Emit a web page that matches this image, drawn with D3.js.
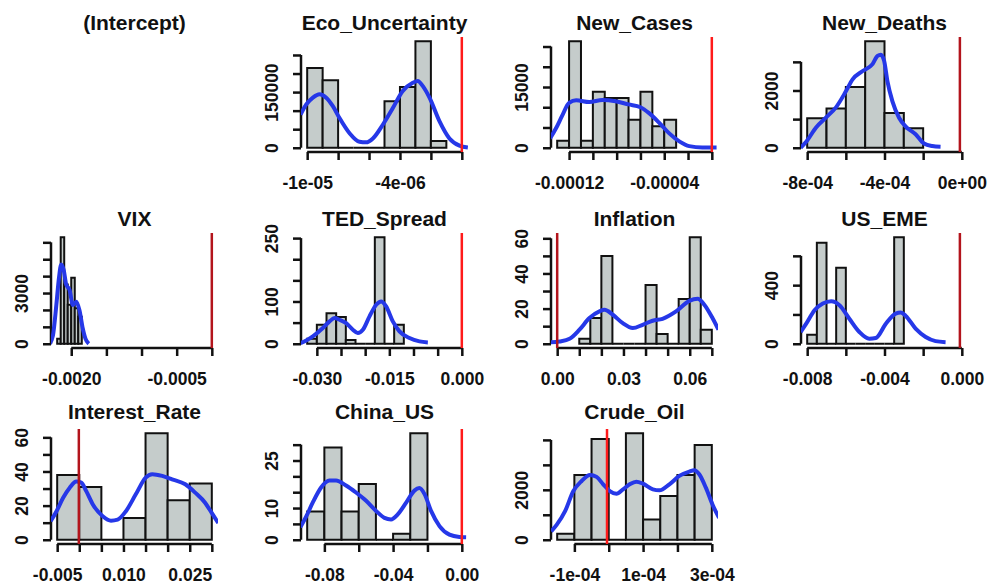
<!DOCTYPE html>
<html>
<head>
<meta charset="utf-8">
<script src="https://cdn.jsdelivr.net/npm/d3@7"></script>
<style>
  body { margin: 0; background: #fff; }
  text { font-family: "Liberation Sans", Arial, sans-serif; }
</style>
</head>
<body>
<svg id="chart" width="987" height="586"></svg>
<script>
// panel titles, in plotting order (3 rows x 4 columns)
const titles = ["(Intercept)", "Eco_Uncertainty", "New_Cases", "New_Deaths",
                "VIX", "TED_Spread", "Inflation", "US_EME",
                "Interest_Rate", "China_US", "Crude_Oil"];

// x limits of each histogram
const xLimits = [null, [-1e-5, 0], [-1.3e-4, 0], [-8e-4, 0],
                 [-0.0022, 0], [-0.032, 0], [0, 0.07], [-0.008, 0],
                 [-0.005, 0.03], [-0.09, 0], [-1.5e-4, 3e-4]];

// histogram breaks: first break and bin width
const binStart = [null, -1e-5, -1.3e-4, -8e-4, -0.0022, -0.032, 0.01, -0.008, -0.005, -0.09, -1.5e-4];
const binWidth = [null, 1e-6, 1e-5, 1e-4, 5e-5, 0.002, 0.005, 0.0005, 0.005, 0.01, 5e-5];

// histogram densities
const binHeights = [
  null,
  [215000, 182000, 0, 0, 0, 125000, 164000, 287000, 18000],
  [1700, 26300, 1700, 13800, 12300, 12300, 6900, 13800, 5300, 6900],
  [1030, 1370, 2120, 3720, 1210, 680],
  [300, 6300, 3500, 2300, 3900, 2100, 1600],
  [12, 45, 72, 63, 9, 0, 0, 252, 0, 45],
  [2.8, 14.6, 50, 0, 0, 0, 33.5, 5.5, 0, 25.4, 60.6, 8],
  [62, 690, 0, 519, 0, 0, 0, 0, 0, 727],
  [38, 30.9, 0, 12.8, 62.4, 23.2, 32.9],
  [8.9, 29.1, 8.9, 17.6, 0, 1.9, 33.6],
  [242, 2598, 4038, 0, 4266, 808, 1750, 2598, 3795]
];

// kernel density estimates: [x, density]
const density = [
  null,
  [[-1.043e-5, 89000], [-1.007e-5, 116000], [-0.963e-5, 135000], [-0.920e-5, 144000], [-0.877e-5, 135000],
   [-0.834e-5, 112000], [-0.791e-5, 80000], [-0.726e-5, 39000], [-0.662e-5, 16000], [-0.619e-5, 14500],
   [-0.575e-5, 25000], [-0.511e-5, 62000], [-0.446e-5, 107000], [-0.382e-5, 153000], [-0.317e-5, 175000],
   [-0.285e-5, 180000], [-0.252e-5, 166000], [-0.209e-5, 135000], [-0.144e-5, 71000], [-0.080e-5, 25000],
   [-0.015e-5, 5500], [0.039e-5, 500]],
  [[-1.36e-4, 2300], [-1.31e-4, 4800], [-1.26e-4, 7800], [-1.2e-4, 11100], [-1.14e-4, 11700],
   [-1.03e-4, 11300], [-0.92e-4, 11800], [-0.81e-4, 11500], [-0.70e-4, 10700], [-0.60e-4, 10000],
   [-0.53e-4, 8600], [-0.44e-4, 6100], [-0.36e-4, 3600], [-0.27e-4, 1500], [-0.19e-4, 400],
   [-0.08e-4, 80], [0.04e-4, 80]],
  [[-8.34e-4, 0], [-8.05e-4, 210], [-7.54e-4, 710], [-7.02e-4, 1060], [-6.51e-4, 1410],
   [-5.99e-4, 1980], [-5.65e-4, 2390], [-5.13e-4, 2680], [-4.62e-4, 2920], [-4.36e-4, 3210],
   [-4.19e-4, 3250], [-4.02e-4, 3040], [-3.85e-4, 2330], [-3.59e-4, 1620], [-3.24e-4, 1040],
   [-2.90e-4, 740], [-2.39e-4, 470], [-1.96e-4, 150], [-1.53e-4, 60], [-1.10e-4, 35]],
  [[-2.307e-3, 0], [-2.26e-3, 500], [-2.212e-3, 2290], [-2.175e-3, 3890], [-2.142e-3, 4690],
   [-2.109e-3, 4390], [-2.071e-3, 3490], [-2.024e-3, 3190], [-1.977e-3, 2290], [-1.929e-3, 2490],
   [-1.883e-3, 1990], [-1.836e-3, 900], [-1.798e-3, 300], [-1.751e-3, 0]],
  [[-0.03338, 1.6], [-0.03221, 7.9], [-0.03083, 17.4], [-0.02876, 37.1], [-0.02738, 52.8],
   [-0.02634, 60.7], [-0.02531, 56.8], [-0.02393, 48.9], [-0.02255, 33.1], [-0.02152, 25.2],
   [-0.02048, 33.1], [-0.0191, 64.7], [-0.01772, 92.3], [-0.01669, 100.2], [-0.01566, 88.3],
   [-0.01428, 52.8], [-0.0129, 29.2], [-0.01083, 13.4], [-0.00876, 5.5], [-0.00703, 3.2]],
  [[-0.003, 0.8], [0.0011, 1.3], [0.0056, 2.8], [0.0101, 8], [0.0146, 14.6],
   [0.0191, 18.4], [0.0214, 19.3], [0.0252, 16.5], [0.0297, 11.7], [0.0342, 8.9],
   [0.0387, 10.8], [0.0432, 13.1], [0.0477, 14.2], [0.0538, 18.4], [0.0598, 24.4],
   [0.0636, 25.6], [0.0666, 22.2], [0.0703, 14.6], [0.073, 8]],
  [[-0.00834, 80], [-0.00805, 137], [-0.00762, 229], [-0.00719, 274], [-0.00676, 290],
   [-0.00633, 263], [-0.00582, 171], [-0.0053, 80], [-0.00479, 34], [-0.00445, 39],
   [-0.00393, 137], [-0.00342, 206], [-0.00316, 213], [-0.0029, 190], [-0.00239, 103],
   [-0.00187, 46], [-0.00136, 18], [-0.00084, 11]],
  [[-0.00649, 10.8], [-0.00515, 16.7], [-0.00365, 24.6], [-0.00216, 30.5], [-0.00066, 34.1],
   [0.00046, 33.5], [0.00158, 28.5], [0.00307, 20.7], [0.00531, 13.8], [0.00718, 11.2],
   [0.00868, 11.8], [0.01055, 16.7], [0.01279, 26.6], [0.01503, 36.4], [0.01653, 38.4],
   [0.01877, 37.4], [0.02101, 35.4], [0.024, 32.5], [0.02624, 27.6], [0.02848, 21.7],
   [0.02998, 15.7], [0.03147, 9.8]],
  [[-0.094, 3.9], [-0.0907, 7.2], [-0.0868, 11.7], [-0.0819, 16.5], [-0.0771, 18.7],
   [-0.0732, 18.7], [-0.0674, 17.1], [-0.0616, 14.9], [-0.0557, 12.3], [-0.0499, 9.1],
   [-0.045, 6.9], [-0.0412, 6.4], [-0.0373, 8.0], [-0.0324, 11.7], [-0.0276, 15.5],
   [-0.0247, 16.3], [-0.0217, 14.4], [-0.0179, 9.1], [-0.013, 4.3], [-0.0072, 1.6],
   [-0.0014, 0.85], [0.0025, 0.75]],
  [[-1.675e-4, 336], [-1.511e-4, 606], [-1.270e-4, 1144], [-1.029e-4, 1952], [-0.788e-4, 2355],
   [-0.547e-4, 2598], [-0.354e-4, 2517], [-0.161e-4, 2221], [0.031e-4, 1952], [0.224e-4, 1844],
   [0.417e-4, 2019], [0.610e-4, 2221], [0.802e-4, 2328], [0.995e-4, 2248], [1.284e-4, 2019],
   [1.477e-4, 1978], [1.766e-4, 2221], [2.055e-4, 2557], [2.345e-4, 2732], [2.489e-4, 2786],
   [2.634e-4, 2624], [2.827e-4, 2086], [3.019e-4, 1413], [3.212e-4, 875]]
];

// vertical reference line of each panel
const refLine = [null, 0, 0, -0.00001, 0, 0, 0, -0.0001, -0.0001, 0, -0.000005];

// axis ticks and their labels ("" = tick without label)
const xTicks = [
  null,
  [-1e-5, -8e-6, -6e-6, -4e-6, -2e-6, 0],
  [-1.2e-4, -1e-4, -8e-5, -6e-5, -4e-5, -2e-5, 0],
  [-8e-4, -6e-4, -4e-4, -2e-4, 0],
  [-0.002, -0.0015, -0.001, -0.0005, 0],
  [-0.03, -0.025, -0.02, -0.015, -0.01, -0.005, 0],
  [0, 0.01, 0.02, 0.03, 0.04, 0.05, 0.06, 0.07],
  [-0.008, -0.006, -0.004, -0.002, 0],
  [-0.005, 0, 0.005, 0.01, 0.015, 0.02, 0.025, 0.03],
  [-0.08, -0.06, -0.04, -0.02, 0],
  [-1e-4, 0, 1e-4, 2e-4, 3e-4]
];
const xTickLabels = [
  null,
  ["-1e-05", "", "", "-4e-06", "", ""],
  ["-0.00012", "", "", "", "-0.00004", "", ""],
  ["-8e-04", "", "-4e-04", "", "0e+00"],
  ["-0.0020", "", "", "-0.0005", ""],
  ["-0.030", "", "", "-0.015", "", "", "0.000"],
  ["0.00", "", "", "0.03", "", "", "0.06", ""],
  ["-0.008", "", "-0.004", "", "0.000"],
  ["-0.005", "", "", "0.010", "", "", "0.025", ""],
  ["-0.08", "", "-0.04", "", "0.00"],
  ["-1e-04", "", "1e-04", "", "3e-04"]
];
const yTicks = [
  null,
  [0, 50000, 100000, 150000, 200000, 250000],
  [0, 5000, 10000, 15000, 20000, 25000],
  [0, 1000, 2000, 3000],
  [0, 1000, 2000, 3000, 4000, 5000, 6000],
  [0, 50, 100, 150, 200, 250],
  [0, 10, 20, 30, 40, 50, 60],
  [0, 200, 400, 600],
  [0, 10, 20, 30, 40, 50, 60],
  [0, 5, 10, 15, 20, 25, 30],
  [0, 1000, 2000, 3000, 4000]
];
const yTickLabels = [
  null,
  ["0", "", "", "150000", "", ""],
  ["0", "", "", "15000", "", ""],
  ["0", "", "2000", ""],
  ["0", "", "", "3000", "", "", ""],
  ["0", "", "100", "", "", "250"],
  ["0", "", "20", "", "40", "", "60"],
  ["0", "", "400", ""],
  ["0", "", "20", "", "40", "", "60"],
  ["0", "", "10", "", "", "25", ""],
  ["0", "", "2000", "", ""]
];

// layout
const rowTop = [37, 233, 429];
const titleLift = [7, 7, 10];
const plotW = 167, plotH = 115;
const darkRef = [false, false, false, true, true, false, true, true, true, false, false];

const svg = d3.select("#chart");

titles.forEach((title, i) => {
  const col = i % 4, row = Math.floor(i / 4);
  const left = 51 + 250 * col, top = rowTop[row];
  const g = svg.append("g");

  g.append("text").attr("x", left + plotW / 2).attr("y", top - titleLift[row])
    .attr("text-anchor", "middle").style("font-size", "21px").style("font-weight", "bold")
    .attr("fill", "#111").text(title);

  if (!binHeights[i]) return;

  const [lo, hi] = xLimits[i];
  const pad = (hi - lo) * 0.04;
  const x = d3.scaleLinear().domain([lo - pad, hi + pad]).range([left, left + plotW]);
  const yTop = d3.max(binHeights[i]);
  const y = d3.scaleLinear().domain([-0.04 * yTop, 1.04 * yTop]).range([top + plotH, top]);

  g.append("clipPath").attr("id", "clip" + i).append("rect")
    .attr("x", left).attr("y", top).attr("width", plotW).attr("height", plotH);

  // bars (paths so that empty bins still show as a line on the baseline)
  const bins = binHeights[i].map((v, k) => ({
    x0: binStart[i] + k * binWidth[i], x1: binStart[i] + (k + 1) * binWidth[i], v: v
  }));
  g.selectAll("path.bar").data(bins).join("path").attr("class", "bar")
    .attr("d", b => `M${x(b.x0)},${y(0)}V${y(b.v)}H${x(b.x1)}V${y(0)}Z`)
    .attr("fill", "#c5cccb").attr("stroke", "#111").attr("stroke-width", 2);

  // x axis
  const xa = g.append("g").attr("transform", `translate(0,${top + plotH})`)
    .call(d3.axisBottom(x).tickValues(xTicks[i]).tickSize(8).tickPadding(17)
      .tickFormat((d, k) => xTickLabels[i][k]));
  xa.select(".domain").remove();
  xa.append("line").attr("x1", x(xTicks[i][0])).attr("x2", x(xTicks[i][xTicks[i].length - 1]));
  xa.selectAll("line").attr("stroke", "#111").attr("stroke-width", 2.5);
  xa.selectAll("text").attr("fill", "#111");
  xa.attr("font-family", "Liberation Sans, Arial, sans-serif").attr("font-size", 17.5)
    .attr("font-weight", "bold");

  // y axis, labels parallel to the axis
  const ya = g.append("g").attr("transform", `translate(${left},0)`)
    .call(d3.axisLeft(y).tickValues(yTicks[i]).tickSize(8)
      .tickFormat((d, k) => yTickLabels[i][k]));
  ya.select(".domain").remove();
  ya.append("line").attr("y1", y(yTicks[i][0])).attr("y2", y(yTicks[i][yTicks[i].length - 1]));
  ya.selectAll("line").attr("stroke", "#111").attr("stroke-width", 2.5);
  ya.selectAll(".tick text").attr("transform", "rotate(-90)")
    .attr("x", 0).attr("y", -23).attr("dy", 0).attr("text-anchor", "middle").attr("fill", "#111");
  ya.attr("font-family", "Liberation Sans, Arial, sans-serif").attr("font-size", 17.5)
    .attr("font-weight", "bold");

  // density curve
  g.append("path").datum(density[i]).attr("clip-path", `url(#clip${i})`)
    .attr("d", d3.line().x(d => x(d[0])).y(d => y(d[1])).curve(d3.curveMonotoneX))
    .attr("fill", "none").attr("stroke", "#2638e8").attr("stroke-width", 4);

  // reference line
  g.append("line").attr("x1", x(refLine[i])).attr("x2", x(refLine[i]))
    .attr("y1", top).attr("y2", top + plotH)
    .attr("stroke", darkRef[i] ? "#b3141c" : "#ff1a1a").attr("stroke-width", 2.5);
});
</script>
</body>
</html>
